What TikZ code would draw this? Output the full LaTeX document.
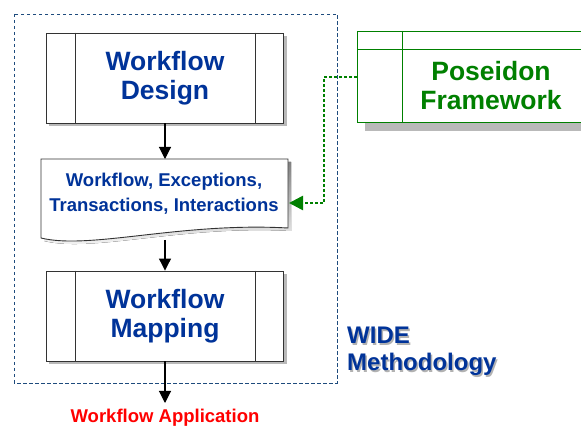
\documentclass[tikz,border=0pt]{standalone}
\usepackage{fontspec}
\setmainfont{Liberation Sans}
\usetikzlibrary{arrows.meta}
\definecolor{wblue}{RGB}{0,51,153}
\definecolor{wgreen}{RGB}{0,128,0}
\definecolor{wframe}{RGB}{30,75,125}
\definecolor{shade}{RGB}{185,185,185}
\tikzset{
  x=1pt, y=-1pt,
  procbox/.style={draw=black!80, line width=0.9pt, fill=white, minimum width=237pt,
    minimum height=90pt, inner sep=0pt, font=\bfseries\fontsize{26.5}{31}\selectfont,
    text=wblue, align=center},
  flow/.style={line width=1.1pt, -{Triangle[length=12pt,width=12pt]}},
  shadowfill/.style={fill=shade, draw=none},
}
\begin{document}
\begin{tikzpicture}
\useasboundingbox (0,0) rectangle (581,427);
\clip (0,0) rectangle (581,427);

% methodology frame
\draw[wframe, line width=0.8pt, dash pattern=on 3.5pt off 2.5pt] (14,14) rectangle (337,383);

% process box shadows
\fill[shadowfill] (49,36) rectangle (287,126);
\fill[shadowfill] (49,274) rectangle (287,364);

% Workflow Design
\node[procbox] (design) at (165,78) {Workflow\\[-2pt]Design};
\draw[black!80, line width=0.9pt] ([xshift=29pt]design.north west) -- ([xshift=29pt]design.south west);
\draw[black!80, line width=0.9pt] ([xshift=-29pt]design.north east) -- ([xshift=-29pt]design.south east);

% Workflow Mapping
\node[procbox] (mapping) at (165,316) {Workflow\\[-2pt]Mapping};
\draw[black!80, line width=0.9pt] ([xshift=29pt]mapping.north west) -- ([xshift=29pt]mapping.south west);
\draw[black!80, line width=0.9pt] ([xshift=-29pt]mapping.north east) -- ([xshift=-29pt]mapping.south east);

% document shape with wavy bottom
\fill[shade] (44,162) -- (291,162) -- (291,231)
  .. controls (183,225) and (93,253) .. (44,241) -- cycle;
\draw[black!80, line width=0.9pt, fill=white] (41,159) -- (288,159) -- (288,228)
  .. controls (180,222) and (90,250) .. (41,238) -- cycle;
\coordinate (doctop) at (165,159);
\coordinate (docbottom) at (165,240);
\coordinate (docin) at (289,203);
\node[font=\bfseries\fontsize{18.5}{25}\selectfont, text=wblue, align=center] (doctext) at (164,194)
  {Workflow, Exceptions,\\Transactions, Interactions};

% Poseidon Framework
\fill[shadowfill] (365,122) rectangle (590,131);
\node[draw=wgreen, line width=0.9pt, fill=white, minimum width=233pt, minimum height=91pt,
  anchor=north west, inner sep=0pt] (poseidon) at (357,31) {};
\draw[wgreen, line width=0.9pt] (357,49) -- (590,49);
\draw[wgreen, line width=0.9pt] (402,31) -- (402,122);
\node[font=\bfseries\fontsize{26.5}{31}\selectfont, text=wgreen, align=center] (poseidontext) at (491,86)
  {Poseidon\\[-2pt]Framework};
\coordinate (posout) at (357,77);

% connectors
\draw[flow] (design.south) -- (doctop);
\draw[flow] (docbottom) -- (mapping.north);
\coordinate (appin) at (165,403);
\draw[flow] (mapping.south) -- (appin);
\draw[wgreen, line width=2.6pt, dash pattern=on 2.6pt off 2.4pt,
  -{Triangle[length=14pt,width=14pt,sep=0pt]}]
  (posout) -- (324,77) -- (324,203) -- (docin);

% labels
\node[font=\bfseries\fontsize{24}{27}\selectfont, text=black!30, align=left, anchor=base west,
  inner sep=0pt] at (348.5,372.5) {WIDE\\Methodology};
\node[font=\bfseries\fontsize{24}{27}\selectfont, text=wblue, align=left, anchor=base west,
  inner sep=0pt] (wide) at (347,371) {WIDE\\Methodology};
\node[font=\bfseries\fontsize{18.5}{22}\selectfont, text=red, anchor=base, inner sep=0pt] (app) at (165,422)
  {Workflow Application};
\end{tikzpicture}
\end{document}
